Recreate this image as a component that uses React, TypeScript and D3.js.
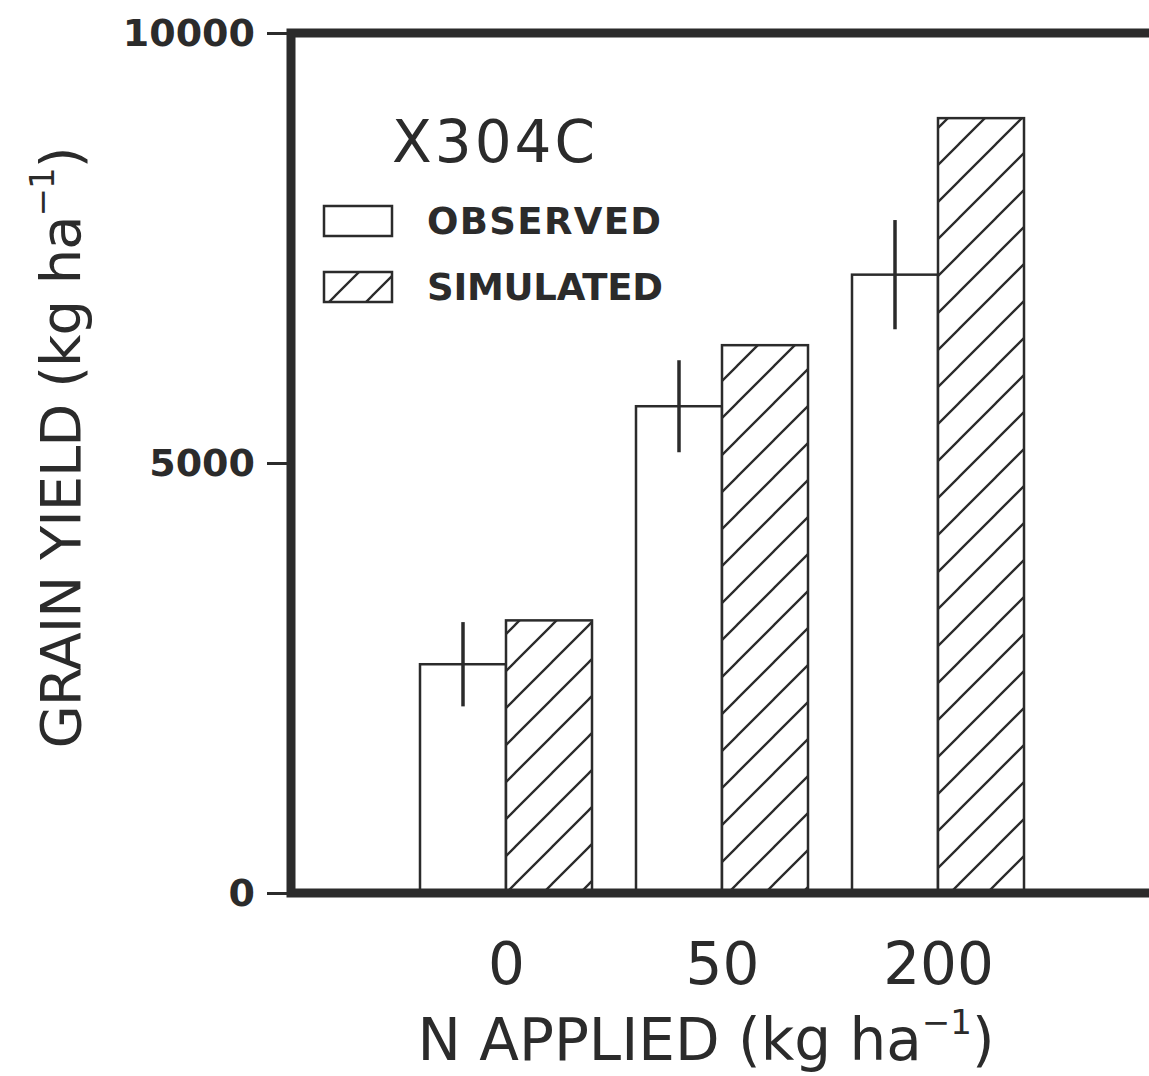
import React, { useEffect, useRef } from "react";
import * as d3 from "d3";

// ---- data ----
const categories = ["0", "50", "200"]; // N applied (kg/ha)
const observed = [2660, 5660, 7190];
const observedErr = [490, 535, 635];
const simulated = [3170, 6370, 9010];
const yTicks = [0, 5000, 10000];

const ink = "#2b2b2b";
const font = "'DejaVu Sans', sans-serif";

function App() {
  const ref = useRef<SVGSVGElement | null>(null);

  useEffect(() => {
    const svg = d3.select(ref.current);
    svg.selectAll("*").remove();

    const dims = {
      width: 1149,
      height: 1076,
      margin: { top: 33, left: 291, bottom: 183, right: -20 },
    } as any;
    dims.boundedWidth = dims.width - dims.margin.left - dims.margin.right;
    dims.boundedHeight = dims.height - dims.margin.top - dims.margin.bottom;

    // hatch pattern for simulated bars
    const defs = svg.append("defs");
    const pat = defs
      .append("pattern")
      .attr("id", "hatch")
      .attr("patternUnits", "userSpaceOnUse")
      .attr("x", 2)
      .attr("y", 0)
      .attr("width", 37)
      .attr("height", 37);
    pat.append("rect").attr("width", 37).attr("height", 37).attr("fill", "white");
    pat
      .append("path")
      .attr("d", "M-5,5 L5,-5 M0,37 L37,0 M32,42 L42,32")
      .attr("stroke", ink)
      .attr("stroke-width", 2.3);

    const bounds = svg
      .append("g")
      .attr("transform", `translate(${dims.margin.left},${dims.margin.top})`);

    // ---- scales ----
    const yScale = d3.scaleLinear().domain([0, 10000]).range([dims.boundedHeight, 0]);
    const xScale = d3.scalePoint().domain(categories).range([215, 647]);
    const barW = 86;

    const rows = categories.map((c, i) => ({
      cat: c,
      obs: observed[i],
      err: observedErr[i],
      sim: simulated[i],
    }));

    // ---- bars ----
    bounds
      .selectAll(".obs")
      .data(rows)
      .join("rect")
      .attr("class", "obs")
      .attr("x", (d) => (xScale(d.cat) as number) - barW)
      .attr("y", (d) => yScale(d.obs))
      .attr("width", barW)
      .attr("height", (d) => yScale(0) - yScale(d.obs))
      .attr("fill", "white")
      .attr("stroke", ink)
      .attr("stroke-width", 2.5);

    bounds
      .selectAll(".sim")
      .data(rows)
      .join("rect")
      .attr("class", "sim")
      .attr("x", (d) => xScale(d.cat) as number)
      .attr("y", (d) => yScale(d.sim))
      .attr("width", barW)
      .attr("height", (d) => yScale(0) - yScale(d.sim))
      .attr("fill", "url(#hatch)")
      .attr("stroke", ink)
      .attr("stroke-width", 2.5);

    // error bars
    bounds
      .selectAll(".err")
      .data(rows)
      .join("line")
      .attr("class", "err")
      .attr("x1", (d) => (xScale(d.cat) as number) - barW / 2)
      .attr("x2", (d) => (xScale(d.cat) as number) - barW / 2)
      .attr("y1", (d) => yScale(d.obs + d.err))
      .attr("y2", (d) => yScale(d.obs - d.err))
      .attr("stroke", ink)
      .attr("stroke-width", 3.5);

    // ---- frame ----
    bounds
      .append("rect")
      .attr("x", 0)
      .attr("y", 0)
      .attr("width", dims.boundedWidth)
      .attr("height", dims.boundedHeight)
      .attr("fill", "none")
      .attr("stroke", ink)
      .attr("stroke-width", 9);

    // ---- axes ----
    const yAxis = bounds
      .append("g")
      .call(d3.axisLeft(yScale).tickValues(yTicks).tickSize(24).tickPadding(12).tickFormat(d3.format("d")));
    yAxis.select(".domain").remove();
    yAxis.selectAll("line").attr("stroke", ink).attr("stroke-width", 3);
    yAxis
      .selectAll("text")
      .attr("fill", ink)
      .style("font-family", font)
      .style("font-weight", "bold")
      .style("font-size", "38px");

    const xAxis = bounds
      .append("g")
      .attr("transform", `translate(0,${dims.boundedHeight})`)
      .call(d3.axisBottom(xScale).tickSize(0).tickPadding(50));
    xAxis.select(".domain").remove();
    xAxis
      .selectAll("text")
      .attr("fill", ink)
      .style("font-family", font)
      .style("font-size", "58px");

    // axis titles
    const xTitle = svg
      .append("text")
      .attr("x", 706)
      .attr("y", 1060)
      .attr("text-anchor", "middle")
      .attr("fill", ink)
      .style("font-family", font)
      .style("font-size", "58px");
    xTitle.append("tspan").text("N APPLIED (kg ha");
    xTitle.append("tspan").attr("dy", -26).style("font-size", "34px").text("−1");
    xTitle.append("tspan").attr("dy", 26).text(")");

    const yTitle = svg
      .append("text")
      .attr("transform", "translate(80,448) rotate(-90)")
      .attr("text-anchor", "middle")
      .attr("fill", ink)
      .style("font-family", font)
      .style("font-size", "56px")
      .style("letter-spacing", "-1px");
    yTitle.append("tspan").text("GRAIN YIELD (kg ha");
    yTitle.append("tspan").attr("dy", -26).style("font-size", "34px").text("−1");
    yTitle.append("tspan").attr("dy", 26).text(")");

    // ---- legend ----
    svg
      .append("text")
      .attr("x", 392)
      .attr("y", 162)
      .attr("fill", ink)
      .attr("textLength", 203)
      .style("font-family", font)
      .style("font-size", "58px")
      .text("X304C");

    const legend = [
      { label: "OBSERVED", fill: "white", y: 206, len: 234 },
      { label: "SIMULATED", fill: "url(#hatch)", y: 272, len: 236 },
    ];
    const lg = svg.selectAll(".lg").data(legend).join("g").attr("class", "lg");
    lg.append("rect")
      .attr("x", 324)
      .attr("y", (d) => d.y)
      .attr("width", 68)
      .attr("height", 30)
      .attr("fill", (d) => d.fill)
      .attr("stroke", ink)
      .attr("stroke-width", 2.5);
    lg.append("text")
      .attr("x", 427)
      .attr("y", (d) => d.y + 28)
      .attr("fill", ink)
      .attr("textLength", (d) => d.len)
      .style("font-family", font)
      .style("font-weight", "bold")
      .style("font-size", "37px")
      .text((d) => d.label);
  }, []);

  return (
    <div style={{ position: "absolute", left: 0, top: 0 }}>
      <svg ref={ref} width={1149} height={1076} style={{ display: "block", background: "white" }} />
    </div>
  );
}

export default App;
